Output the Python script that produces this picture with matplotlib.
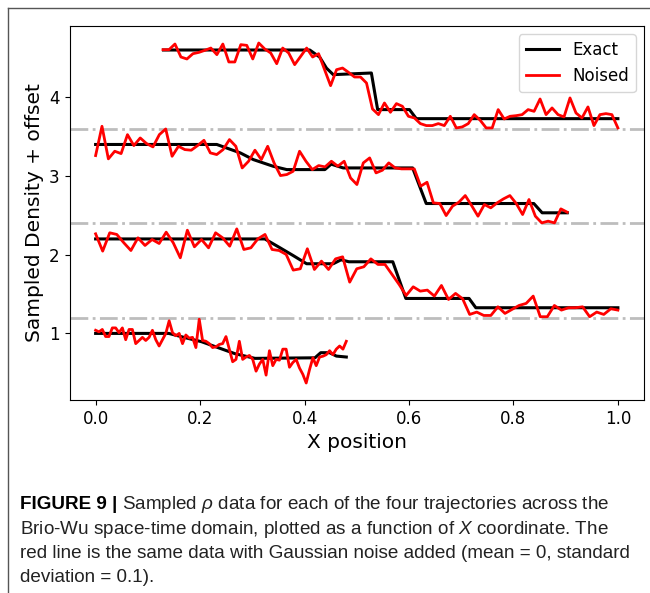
import numpy as np
import matplotlib.pyplot as plt
from matplotlib import font_manager
from matplotlib.lines import Line2D

# horizontal guides between the stacked trajectories
guides = [1.2, 2.4, 3.6]

# exact density (+ offset) along each trajectory, as polyline vertices
exact1_x = [0.0, 0.14, 0.172, 0.203, 0.235, 0.267, 0.305, 0.42, 0.431, 0.448, 0.461, 0.48]
exact1_y = [1.0, 1.0, 0.945, 0.894, 0.818, 0.742, 0.683, 0.69, 0.755, 0.755, 0.712, 0.70]
exact2_x = [0.0, 0.324, 0.353, 0.378, 0.404, 0.455, 0.47, 0.485, 0.569, 0.594, 0.715, 0.728, 1.0]
exact2_y = [2.2, 2.2, 2.088, 1.99, 1.885, 1.885, 1.935, 1.91, 1.91, 1.444, 1.444, 1.326, 1.326]
exact3_x = [0.0, 0.232, 0.277, 0.302, 0.340, 0.366, 0.439, 0.451, 0.474, 0.607, 0.633, 0.839, 0.855, 0.903]
exact3_y = [3.4, 3.4, 3.293, 3.208, 3.123, 3.081, 3.081, 3.15, 3.102, 3.102, 2.65, 2.65, 2.532, 2.532]
exact4_x = [0.13, 0.41, 0.429, 0.442, 0.455, 0.528, 0.540, 0.601, 0.614, 1.0]
exact4_y = [4.6, 4.6, 4.51, 4.37, 4.287, 4.308, 3.843, 3.843, 3.728, 3.728]

# noised samples, evenly spaced between the given x limits
noised1_lim = (0.0, 0.48)
noised1 = [1.04, 1.02, 1.05, 0.96, 0.96, 1.07, 1.07, 1.01, 1.07, 0.92,
           1.05, 1.05, 0.87, 0.91, 0.95, 0.91, 0.95, 1.04, 0.92, 0.84,
           0.92, 1.00, 1.16, 1.01, 0.97, 1.00, 0.87, 0.98, 0.94, 0.95,
           0.82, 1.18, 0.91, 0.90, 0.87, 0.82, 0.83, 0.86, 0.87, 0.96,
           0.80, 0.64, 0.67, 0.90, 0.67, 0.70, 0.72, 0.67, 0.52, 0.61,
           0.67, 0.47, 0.78, 0.59, 0.67, 0.66, 0.80, 0.80, 0.57, 0.63,
           0.67, 0.56, 0.48, 0.37, 0.54, 0.69, 0.59, 0.70, 0.71, 0.73,
           0.78, 0.73, 0.80, 0.84, 0.80, 0.90]
noised2_lim = (0.0, 1.0)
noised2 = [2.265, 2.045, 2.278, 2.257, 2.151, 2.053, 2.214, 2.117, 2.193, 2.142,
           2.286, 2.151, 1.960, 2.311, 2.10, 2.193, 2.087, 2.278, 2.214, 2.108,
           2.328, 2.066, 2.087, 2.202, 2.257, 2.066, 2.053, 2.003, 1.804, 1.821,
           2.075, 1.812, 1.918, 1.812, 1.947, 1.973, 1.651, 1.821, 1.846, 1.947,
           1.876, 1.876, 1.749, 1.622, 1.482, 1.592, 1.537, 1.550, 1.474, 1.609,
           1.431, 1.508, 1.440, 1.241, 1.271, 1.228, 1.228, 1.338, 1.254, 1.305,
           1.355, 1.381, 1.474, 1.212, 1.212, 1.355, 1.296, 1.326, 1.326, 1.338,
           1.212, 1.271, 1.241, 1.313, 1.296]
noised3_lim = (0.0, 0.903)
noised3 = [3.259, 3.631, 3.217, 3.314, 3.284, 3.525, 3.386, 3.483, 3.411, 3.369,
           3.525, 3.597, 3.250, 3.377, 3.335, 3.327, 3.386, 3.453, 3.293, 3.272,
           3.335, 3.462, 3.377, 3.102, 3.187, 3.327, 3.208, 3.377, 3.166, 3.005,
           3.018, 3.060, 3.314, 3.187, 3.081, 3.132, 3.115, 3.187, 3.124, 3.187,
           2.975, 2.891, 3.166, 3.229, 3.039, 3.073, 3.166, 3.102, 3.090, 3.090,
           3.090, 2.870, 2.920, 2.658, 2.650, 2.497, 2.616, 2.667, 2.751, 2.624,
           2.489, 2.637, 2.595, 2.658, 2.709, 2.751, 2.650, 2.510, 2.701, 2.489,
           2.404, 2.426, 2.404, 2.582, 2.540]
noised4_lim = (0.129, 1.0)
noised4 = [4.604, 4.604, 4.676, 4.511, 4.486, 4.553, 4.570, 4.596, 4.625, 4.541,
           4.676, 4.448, 4.448, 4.668, 4.659, 4.486, 4.689, 4.613, 4.562, 4.426,
           4.625, 4.562, 4.414, 4.519, 4.625, 4.511, 4.553, 4.350, 4.147, 4.350,
           4.371, 4.316, 4.257, 4.257, 4.181, 3.851, 3.779, 3.927, 3.809, 3.919,
           3.885, 3.758, 3.737, 3.665, 3.640, 3.640, 3.665, 3.640, 3.758, 3.610,
           3.623, 3.665, 3.779, 3.707, 3.610, 3.610, 3.843, 3.724, 3.758, 3.766,
           3.779, 3.843, 3.821, 3.978, 3.779, 3.864, 3.779, 3.750, 3.991, 3.800,
           3.737, 3.877, 3.640, 3.779, 3.792, 3.779, 3.610]

caption = [
    "Sampled $\\rho$ data for each of the four trajectories across the",
    "Brio-Wu space-time domain, plotted as a function of $X$ coordinate. The",
    "red line is the same data with Gaussian noise added (mean = 0, standard",
    "deviation = 0.1).",
]

available = {f.name for f in font_manager.fontManager.ttflist}
cap_font = next(n for n in ["Liberation Sans Narrow", "Liberation Sans", "DejaVu Sans"]
                if n in available)
plt.rcParams["mathtext.fontset"] = "custom"
plt.rcParams["mathtext.rm"] = cap_font
plt.rcParams["mathtext.it"] = cap_font + ":italic"

W, H = 650, 593
fig = plt.figure(figsize=(6.5, 5.93), dpi=100)
ax = fig.add_axes([69.5 / W, 1 - 400 / H, (644 - 69.5) / W, (400 - 26) / H])

for y in guides:
    ax.axhline(y, color="#bdbdbd", lw=2, ls="-.")

exacts = [(exact1_x, exact1_y), (exact2_x, exact2_y), (exact3_x, exact3_y), (exact4_x, exact4_y)]
noised = [(noised1_lim, noised1), (noised2_lim, noised2), (noised3_lim, noised3), (noised4_lim, noised4)]

for i, ((ex, ey), (lim, vals)) in enumerate(zip(exacts, noised)):
    ax.plot(ex, ey, color="black", lw=2.2, label="Exact" if i == 0 else None)
    xs = np.linspace(lim[0], lim[1], len(vals))
    ax.plot(xs, vals, color="red", lw=2, label="Noised" if i == 0 else None)

ax.set_xticks([0.0, 0.2, 0.4, 0.6, 0.8, 1.0])
ax.set_yticks([1, 2, 3, 4])
ax.tick_params(labelsize=12)
ax.set_xlabel("X position", fontsize=14.5)
ax.set_ylabel("Sampled Density + offset", fontsize=14.5)
ax.legend(loc="upper right", fontsize=12)

# frame lines of the figure panel
fig.add_artist(Line2D([8 / W, 1], [1 - 8 / H, 1 - 8 / H], color="#555555", lw=1))
fig.add_artist(Line2D([8 / W, 8 / W], [0, 1 - 8 / H], color="#555555", lw=1))

cap_size = 15.5 if cap_font == "Liberation Sans Narrow" else 13.6
head = fig.text(20 / W, 1 - 509 / H, "FIGURE 9 |", fontsize=cap_size, family=cap_font,
                weight="bold", va="baseline")
head_end = head.get_window_extent(fig.canvas.get_renderer()).x1
for k, line in enumerate(caption):
    x0 = (head_end + 5) / W if k == 0 else 20 / W
    fig.text(x0, 1 - (509 + 24.5 * k) / H, line, fontsize=cap_size,
             family=cap_font, va="baseline", color="#222222")

fig.savefig("out.png", dpi=100)
